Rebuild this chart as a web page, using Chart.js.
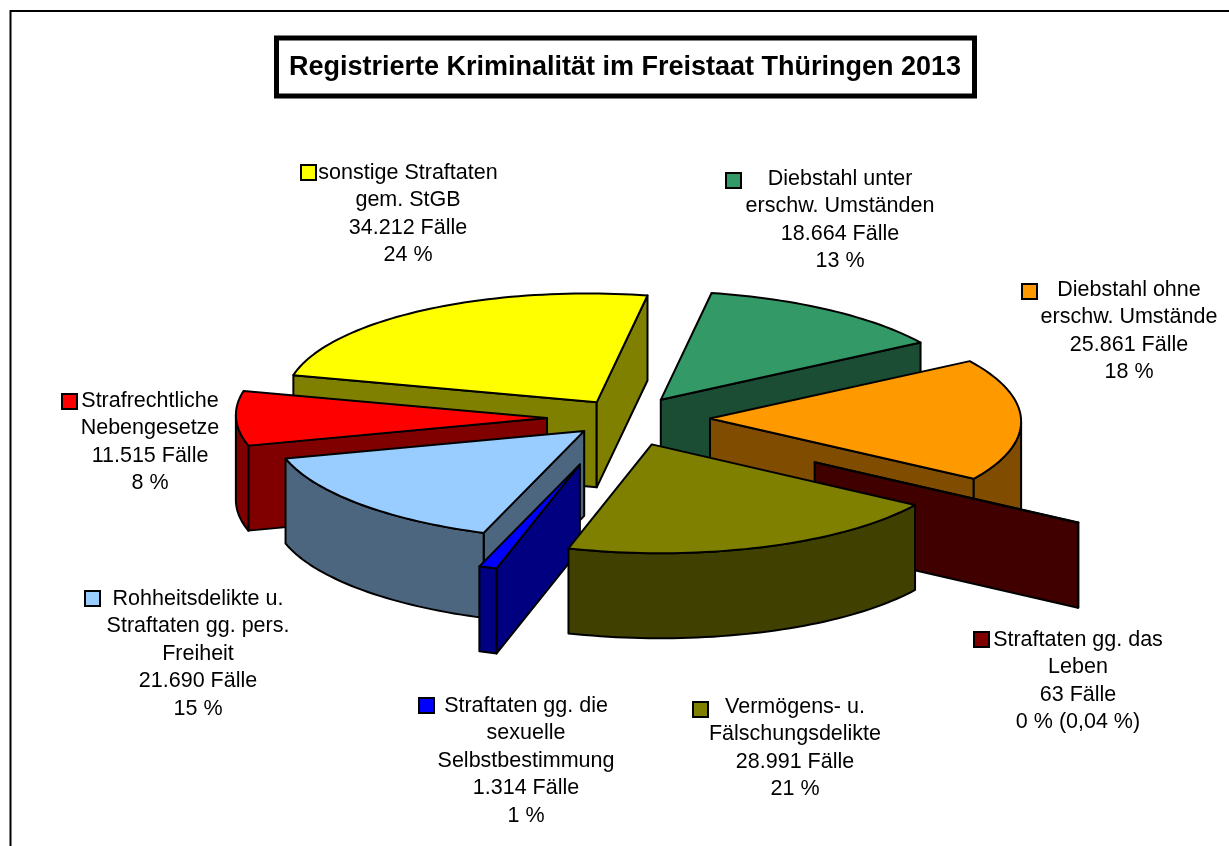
<!DOCTYPE html>
<html><head><meta charset="utf-8">
<style>html,body{margin:0;padding:0;background:#fff;overflow:hidden}canvas{display:block}</style>
<script src="https://cdn.jsdelivr.net/npm/chart.js@4"></script>
</head><body><canvas id="c" width="1229" height="846" style="width:1229px;height:846px"></canvas>
<script>
const titleText = "Registrierte Kriminalität im Freistaat Thüringen 2013";
const categories = ["Diebstahl unter erschw. Umständen","Diebstahl ohne erschw. Umstände","Straftaten gg. das Leben","Vermögens- u. Fälschungsdelikte","Straftaten gg. die sexuelle Selbstbestimmung","Rohheitsdelikte u. Straftaten gg. pers. Freiheit","Strafrechtliche Nebengesetze","sonstige Straftaten gem. StGB"];
const cases = [18664,25861,63,28991,1314,21690,11515,34212];
const caseLabels = ["18.664 Fälle","25.861 Fälle","63 Fälle","28.991 Fälle","1.314 Fälle","21.690 Fälle","11.515 Fälle","34.212 Fälle"];
const percentLabels = ["13 %","18 %","0 % (0,04 %)","21 %","1 %","15 %","8 %","24 %"];
const nameLines = [["Diebstahl unter","erschw. Umständen"],["Diebstahl ohne","erschw. Umstände"],["Straftaten gg. das","Leben"],["Vermögens- u.","Fälschungsdelikte"],["Straftaten gg. die","sexuelle","Selbstbestimmung"],["Rohheitsdelikte u.","Straftaten gg. pers.","Freiheit"],["Strafrechtliche","Nebengesetze"],["sonstige Straftaten","gem. StGB"]];
const topColors = ["#339966","#FF9900","#800000","#808000","#0000FF","#99CCFF","#FF0000","#FFFF00"];
const wallColors = ["#1A4D33","#804D00","#400000","#404000","#000080","#4D6680","#800000","#808000"];
const explode = [63,85,228,80,140,55,78,53];
const paintOrder = [7,0,1,2,6,5,4,3];
// label layout: text centre x, first line centre y, key left, key top
const labelLayout = [[840,179,725,172],[1129,290,1021,283],[1078,640,973,631],[795,707,692,701],[526,706,418,697],[198,599,84,590],[150,401,61,393],[408,173,300,164]];
const TILT=0.35, SHEAR=0.08, DEPTH=85, LINE=27.4, STEP=Math.PI/120;

const pie3d = {
 id:'pie3d',
 beforeDatasetDraw(chart,args){
  const ctx=chart.ctx, arcs=args.meta.data;
  paintOrder.forEach(i=>{
   const a=arcs[i]; const p=a.getProps(['x','y','startAngle','endAngle','outerRadius']);
   const R=p.outerRadius, s=p.startAngle, e=p.endAngle, m=(s+e)/2, off=a.options.offset;
   const ax=p.x+Math.cos(m)*off, ay=p.y+Math.sin(m)*off*TILT, ry=R*TILT;
   const pt=(t,d=0)=>[ax+Math.cos(t)*R+SHEAR*ry*Math.sin(t), ay+Math.sin(t)*ry+d];
   const rim=(u,v,d)=>{const n=Math.max(2,Math.ceil(Math.abs(v-u)/STEP));const r=[];for(let k=0;k<=n;k++)r.push(pt(u+(v-u)*k/n,d));return r;};
   const poly=(pts,col)=>{ctx.beginPath();pts.forEach((q,k)=>k?ctx.lineTo(q[0],q[1]):ctx.moveTo(q[0],q[1]));ctx.closePath();ctx.fillStyle=col;ctx.fill();ctx.stroke();};
   ctx.save(); ctx.lineWidth=2; ctx.lineJoin='round'; ctx.strokeStyle='#000';
   const face=t=>poly([[ax,ay],pt(t),pt(t,DEPTH),[ax,ay+DEPTH]],wallColors[i]);
   if(Math.cos(s)<0) face(s);
   if(Math.cos(e)>0) face(e);
   const t0=Math.atan2(SHEAR*ry,R), tw=2*Math.PI;
   for(let k=-1;k<=2;k++){
    const u=Math.max(s,k*tw+t0), v=Math.min(e,k*tw+t0+Math.PI);
    if(v>u) poly([...rim(u,v,0),...rim(v,u,DEPTH)],wallColors[i]);
   }
   poly([[ax,ay],...rim(s,e,0)],topColors[i]);
   ctx.restore();
  });
  return false;
 },
 afterDraw(chart){
  const ctx=chart.ctx; ctx.save();
  ctx.strokeStyle='#000';ctx.lineWidth=2;ctx.strokeRect(10.5,11,1240,900);
  ctx.lineWidth=5;ctx.fillStyle='#fff';ctx.fillRect(276.5,38,698,58);ctx.strokeRect(276.5,38,698,58);
  ctx.fillStyle='#000';ctx.textAlign='center';ctx.textBaseline='middle';
  ctx.font='bold 27px "Liberation Sans"';ctx.fillText(titleText,625,68);
  ctx.font='21.5px "Liberation Sans"';
  labelLayout.forEach((l,i)=>{
   const lines=[...nameLines[i],caseLabels[i],percentLabels[i]];
   lines.forEach((t,j)=>ctx.fillText(t,l[0],l[1]+j*LINE));
   ctx.fillStyle=topColors[i];ctx.fillRect(l[2]+1,l[3]+1,15,15);ctx.lineWidth=2;ctx.strokeRect(l[2]+1,l[3]+1,15,15);ctx.fillStyle='#000';
  });
  ctx.restore();
 }
};
Chart.defaults.font.family='"Liberation Sans"';
new Chart(document.getElementById('c'),{
 type:'pie',
 data:{labels:categories,datasets:[{data:cases,backgroundColor:topColors,offset:explode,borderWidth:0}]},
 options:{responsive:false,animation:false,radius:311,rotation:11,
  layout:{padding:{left:21,right:0,top:0,bottom:10}},
  plugins:{legend:{display:false},title:{display:false},tooltip:{enabled:false}}},
 plugins:[pie3d]
});
</script></body></html>
